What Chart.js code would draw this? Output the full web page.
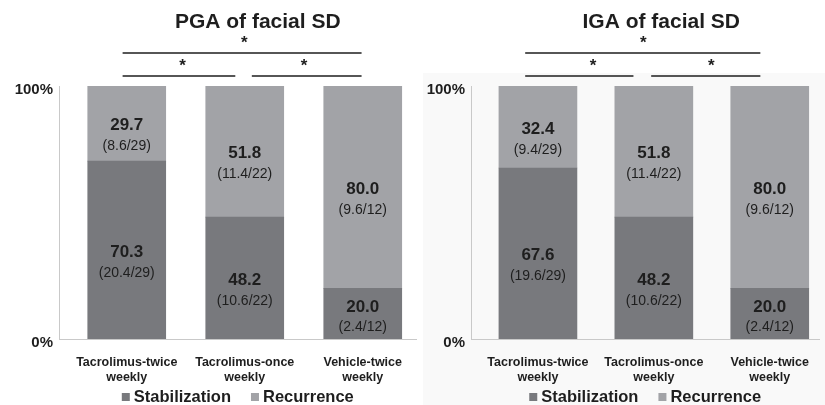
<!DOCTYPE html>
<html><head><meta charset="utf-8">
<script src="https://cdn.jsdelivr.net/npm/chart.js@4.4.0/dist/chart.umd.min.js"></script>
<style>
html,body{margin:0;padding:0;background:#fff;}
#wrap{position:relative;width:825px;height:405px;overflow:hidden;}
#c1{position:absolute;left:0;top:0;}
#c2{position:absolute;left:412px;top:0;}
</style></head><body>
<div id="wrap"><canvas id="c1" width="418" height="405"></canvas><canvas id="c2" width="413" height="405"></canvas></div>
<script>
const categories = [['Tacrolimus-twice','weekly'],['Tacrolimus-once','weekly'],['Vehicle-twice','weekly']];
const seriesNames = ['Stabilization','Recurrence'];
const yTicks = [0, 100];
const titles = ['PGA of facial SD', 'IGA of facial SD'];
const pgaStabilization = [70.3, 48.2, 20.0];
const pgaRecurrence = [29.7, 51.8, 80.0];
const pgaStabCounts = ['(20.4/29)', '(10.6/22)', '(2.4/12)'];
const pgaRecCounts = ['(8.6/29)', '(11.4/22)', '(9.6/12)'];
const igaStabilization = [67.6, 48.2, 20.0];
const igaRecurrence = [32.4, 51.8, 80.0];
const igaStabCounts = ['(19.6/29)', '(10.6/22)', '(2.4/12)'];
const igaRecCounts = ['(9.4/29)', '(11.4/22)', '(9.6/12)'];

const FONT = '"Liberation Sans", Arial, Helvetica, sans-serif';
const DARK = '#78797d', LIGHT = '#a2a3a7', TEXT = '#1e1e1e';
const PLOT_BOTTOM = 339, LEGEND_Y = 397;

const annot = {
  id: 'annot',
  beforeDraw(chart, args, o) {
    if (o.bg) {
      const ctx = chart.ctx;
      ctx.save(); ctx.fillStyle = o.bg.color;
      ctx.fillRect(o.bg.x, o.bg.y, chart.width - o.bg.x, chart.height - o.bg.y);
      ctx.restore();
    }
  },
  afterDatasetsDraw(chart, args, o) {
    const ctx = chart.ctx;
    ctx.save();
    ctx.textAlign = 'center'; ctx.textBaseline = 'middle'; ctx.fillStyle = TEXT;
    chart.data.datasets.forEach((ds, di) => {
      const meta = chart.getDatasetMeta(di);
      meta.data.forEach((el, i) => {
        const top = Math.min(el.y, el.base), bot = Math.max(el.y, el.base);
        const h = bot - top, c = (top + bot) / 2;
        const ny = h > 60 ? c + 2 : c - 6;
        const py = h > 60 ? c + 23 : c + 13;
        ctx.font = 'bold 17px ' + FONT;
        ctx.fillText(ds.data[i].y.toFixed(1), el.x, ny);
        ctx.font = '14px ' + FONT;
        ctx.fillText(ds.counts[i], el.x, py);
      });
    });
    ctx.restore();
  },
  afterDraw(chart, args, o) {
    const ctx = chart.ctx, xs = chart.scales.x, ca = chart.chartArea;
    ctx.save();
    ctx.fillStyle = TEXT; ctx.textAlign = 'center'; ctx.textBaseline = 'middle';
    ctx.font = 'bold 21px ' + FONT;
    ctx.fillText(o.title, (ca.left + ca.right) / 2 + o.titleDx, 22);
    ctx.strokeStyle = TEXT; ctx.lineWidth = 1.5;
    ctx.font = 'bold 17px ' + FONT;
    o.brackets.forEach(b => {
      const x1 = xs.getPixelForValue(b.from), x2 = xs.getPixelForValue(b.to);
      ctx.beginPath(); ctx.moveTo(x1, b.lineY); ctx.lineTo(x2, b.lineY); ctx.stroke();
      ctx.fillText('*', xs.getPixelForValue(b.star), b.starY);
    });
    // legend (series names from the datasets)
    ctx.font = 'bold 16.5px ' + FONT;
    ctx.textAlign = 'left';
    const box = 8, gap = 4, itemGap = 20;
    const items = chart.data.datasets.map(ds => ({ label: ds.label, color: ds.backgroundColor,
      w: box + gap + ctx.measureText(ds.label).width }));
    const total = items.reduce((s, it) => s + it.w, 0) + itemGap * (items.length - 1);
    let x = (ca.left + ca.right) / 2 - total / 2;
    items.forEach(it => {
      ctx.fillStyle = it.color;
      ctx.fillRect(x, LEGEND_Y - box / 2, box, box);
      ctx.fillStyle = TEXT;
      ctx.fillText(it.label, x + box + gap, LEGEND_Y + 0.5);
      x += it.w + itemGap;
    });
    ctx.restore();
  }
};

function makeChart(id, title, stab, rec, stabN, recN, xmin, xmax, titleDx, brackets, bg) {
  return new Chart(document.getElementById(id), {
    type: 'bar',
    data: {
      datasets: [
        { label: seriesNames[0], data: stab.map((v, i) => ({ x: i, y: v })), counts: stabN,
          backgroundColor: DARK, barThickness: 78 },
        { label: seriesNames[1], data: rec.map((v, i) => ({ x: i, y: v })), counts: recN,
          backgroundColor: LIGHT, barThickness: 78 }
      ]
    },
    options: {
      responsive: false, animation: false, devicePixelRatio: 1,
      layout: { padding: { top: 86, left: 0, right: 0, bottom: 0 } },
      scales: {
        x: {
          type: 'linear', stacked: true, min: xmin, max: xmax, offset: false,
          grid: { display: false, drawTicks: false },
          border: { display: true, color: '#c9c9c9', width: 1 },
          afterBuildTicks: s => { s.ticks = categories.map((c, i) => ({ value: i })); },
          afterFit: s => { s.height = 405 - PLOT_BOTTOM; },
          ticks: {
            autoSkip: false, maxRotation: 0, padding: 16, color: TEXT,
            font: { family: FONT, size: 12.5, weight: 'bold', lineHeight: 1.2 },
            callback: v => categories[v]
          }
        },
        y: {
          stacked: true, min: 0, max: 100,
          grid: { display: false, drawTicks: false },
          border: { display: true, color: '#c9c9c9', width: 1 },
          afterBuildTicks: s => { s.ticks = yTicks.map(v => ({ value: v })); },
          afterFit: s => { s.width = 59; },
          ticks: { padding: 6, labelOffset: 4, color: TEXT, font: { family: FONT, size: 15, weight: 'bold' },
            callback: v => v + '%' }
        }
      },
      plugins: {
        legend: { display: false },
        tooltip: { enabled: false },
        title: { display: false },
        annot: { title, titleDx, brackets, bg }
      }
    },
    plugins: [annot]
  });
}

makeChart('c1', titles[0], pgaStabilization, pgaRecurrence, pgaStabCounts, pgaRecCounts,
  -0.574, 2.456, 20,
  [{ from: -0.035, to: 1.99, lineY: 53, star: 0.996, starY: 43 },
   { from: -0.035, to: 0.92, lineY: 76, star: 0.473, starY: 66 },
   { from: 1.06, to: 1.99, lineY: 76, star: 1.502, starY: 66 }], null);

makeChart('c2', titles[1], igaStabilization, igaRecurrence, igaStabCounts, igaRecCounts,
  -0.5775, 2.429, 16,
  [{ from: -0.11, to: 1.919, lineY: 53, star: 0.909, starY: 43 },
   { from: -0.11, to: 0.824, lineY: 76, star: 0.476, starY: 66 },
   { from: 0.977, to: 1.919, lineY: 76, star: 1.495, starY: 66 }], { x: 11, y: 73, color: '#f9f9f9' });
</script>
</body></html>
